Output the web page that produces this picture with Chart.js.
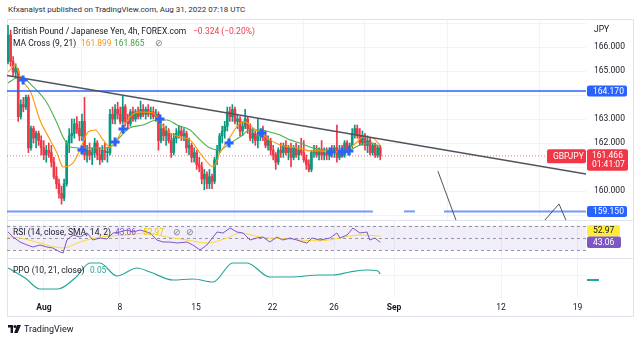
<!DOCTYPE html>
<html>
<head>
<meta charset="utf-8">
<script src="https://cdn.jsdelivr.net/npm/chart.js@4.4.0/dist/chart.umd.min.js"></script>
<style>
  body { margin: 0; width: 640px; height: 341px; background: #fff; position: relative; overflow: hidden;
         font-family: Roboto, "Noto Sans", sans-serif; color: #131722; }
  canvas { position: absolute; left: 7px; }
  #head { position: absolute; left: 8px; top: 5px; font-size: 8px; color: #2a2e39; }
  #frame { position: absolute; left: 7px; top: 19px; width: 627px; height: 298px; border: 1px solid #e0e3eb; box-sizing: border-box; }
  .sep { position: absolute; left: 7px; width: 627px; height: 1px; background: #e0e3eb; }
  .lg { position: absolute; font-size: 8.5px; line-height: 10px; white-space: nowrap; }
  .v { font-size: 8.4px; }
  .dn { color: #f23645; }
  #logo { position: absolute; left: 8px; top: 324px; font-size: 9px; color: #131722; }
  #logo svg { vertical-align: -1px; margin-right: 3px; }
</style>
</head>
<body>
<div id="head">Kfxanalyst published on TradingView.com, Aug 31, 2022 07:18 UTC</div>
<div id="frame"></div>
<canvas id="mainChart" width="626" height="200" style="top:20px"></canvas>
<canvas id="rsiChart" width="626" height="38" style="top:220px"></canvas>
<canvas id="ppoChart" width="626" height="58" style="top:258px"></canvas>
<div class="sep" style="top:220px"></div>
<div class="sep" style="top:258px"></div>

<div class="lg" style="left:13px;top:26px">British Pound / Japanese Yen, 4h, FOREX.com</div>
<div class="lg dn" style="left:193px;top:26px">−0.324 (−0.20%)</div>
<div class="lg" style="left:13px;top:38px">MA Cross (9, 21)</div>
<div class="lg v" style="left:81px;top:38px;color:#ff9800">161.899</div>
<div class="lg v" style="left:114px;top:38px;color:#43a047">161.865</div>
<div class="lg" style="left:155px;top:38px;color:#787b86">⊘</div>
<div class="lg" style="left:594px;top:24px">JPY</div>

<div class="lg" style="left:13px;top:227px">RSI (14, close, SMA, 14, 2)</div>
<div class="lg v" style="left:115px;top:227px;color:#7e57c2">43.06</div>
<div class="lg v" style="left:143px;top:227px;color:#e6c800">52.97</div>
<div class="lg" style="left:173px;top:227px;color:#787b86">⊘</div>
<div class="lg" style="left:186px;top:227px;color:#787b86">⊘</div>

<div class="lg" style="left:13px;top:265px">PPO (10, 21, close)</div>
<div class="lg v" style="left:90px;top:265px;color:#26a69a">0.05</div>

<div id="logo"><svg width="13" height="8" viewBox="0 0 13 8"><path d="M0 0h5v8H2.6V2.4H0z M9 0h4L9.6 8H6.2z" fill="#131722"/><circle cx="7" cy="1.6" r="1.5" fill="#131722"/></svg>TradingView</div>

<script>
// GBPJPY 4h candles, bar index 0 = first visible bar
const open = [165.4,166.5,165.4,164.95,165.0,163.1,163.6,163.5,163.9,161.8,162.6,162.2,162.4,162.1,161.8,161.5,161.7,161.6,161.2,160.6,
  160.3,159.9,159.7,160.3,162.0,162.3,162.4,162.8,162.6,162.3,162.9,161.5,161.7,161.5,161.6,162.0,161.5,161.3,161.7,161.6,
  161.6,163.2,163.0,163.4,163.2,162.9,163.5,162.9,162.8,163.3,163.0,163.3,163.1,163.4,163.2,163.4,163.2,163.3,163.1,163.2,
  162.1,162.6,162.3,162.5,162.1,161.6,162.2,162.4,162.5,162.3,162.4,161.8,161.9,161.4,161.6,161.1,161.0,160.5,160.7,160.3,
  160.6,160.4,161.3,161.7,162.3,162.5,162.7,163.3,163.1,163.4,162.9,163.0,162.5,162.7,163.0,162.6,162.2,162.4,162.1,162.3,
  162.5,162.3,161.9,162.1,161.7,161.5,161.2,161.7,161.6,161.9,161.6,161.8,161.4,161.8,161.5,161.7,161.6,161.3,161.1,160.9,
  161.6,161.7,161.5,161.7,161.5,161.6,161.5,161.7,161.6,161.8,161.4,161.7,161.5,162.0,161.7,161.9,162.4,162.6,162.3,162.0,
  162.3,161.9,162.1,161.6,161.9,161.5,161.8];
const high = [166.9,166.7,165.6,165.3,165.1,163.8,163.9,164.0,164.0,162.7,162.7,162.5,162.5,162.3,162.1,161.9,162.0,161.9,161.4,161.0,
  160.5,160.2,160.5,162.1,162.6,163.0,163.0,163.1,162.9,163.2,163.9,161.9,162.0,161.8,162.2,162.1,161.8,161.9,162.0,161.8,
  163.4,163.5,163.6,163.7,163.5,163.95,163.6,163.2,163.4,163.5,163.4,163.5,163.75,163.6,163.5,163.6,163.5,163.5,163.4,163.3,
  162.9,162.8,162.7,162.6,162.4,162.4,162.6,162.7,162.7,162.6,162.5,162.2,162.0,161.8,161.7,161.4,161.2,160.9,160.8,160.9,
  160.7,161.4,161.9,162.4,162.7,162.9,163.5,163.5,163.6,163.5,163.2,163.1,162.9,163.4,163.1,162.8,162.6,162.5,163.0,162.6,
  162.7,162.5,162.3,162.2,161.9,161.6,161.8,162.0,162.0,162.1,161.9,162.0,161.9,162.0,161.9,162.2,162.1,161.5,161.3,161.7,
  161.9,161.9,161.8,162.1,161.8,161.8,161.8,161.9,161.9,162.75,161.9,161.9,162.1,162.1,162.0,162.6,162.75,162.75,162.6,162.5,
  162.4,162.3,162.2,162.0,162.0,161.9,161.9];
const low = [165.3,165.2,164.8,164.7,162.9,163.0,163.3,163.4,161.6,161.7,162.0,161.8,161.9,161.5,161.3,161.2,161.4,161.0,160.5,160.1,
  159.7,159.45,159.6,160.2,161.6,162.0,162.2,162.4,162.1,162.1,161.3,161.2,161.3,161.1,161.4,161.3,161.1,161.2,161.3,161.2,
  161.5,162.8,162.8,163.0,162.8,162.8,162.7,162.6,162.7,162.9,162.9,163.0,163.0,163.1,163.0,163.1,163.0,163.0,162.9,161.7,
  162.0,162.1,161.9,162.0,161.4,161.5,162.0,162.2,162.1,162.1,161.6,161.5,161.2,161.2,160.9,160.8,160.3,160.05,160.1,160.1,
  160.1,160.3,161.1,161.6,162.0,162.2,162.5,162.9,162.9,162.8,162.6,162.3,162.3,162.6,162.4,162.1,162.0,161.9,161.8,162.1,
  162.1,161.8,161.7,161.5,161.3,160.9,161.1,161.4,161.4,161.5,161.3,161.0,161.3,161.4,161.3,161.5,161.2,160.9,160.8,160.8,
  161.4,161.4,161.3,161.3,161.3,161.3,161.3,161.4,161.4,161.2,161.3,161.4,161.4,161.6,161.5,161.8,162.2,162.2,161.9,161.9,
  161.7,161.6,161.5,161.5,161.4,161.4,161.3];
const close = [166.5,165.4,164.95,165.1,163.1,163.6,163.5,163.9,161.8,162.6,162.2,162.4,162.1,161.8,161.5,161.7,161.6,161.2,160.6,160.3,
  159.9,159.7,160.3,162.0,162.3,162.4,162.8,162.6,162.3,162.9,161.5,161.7,161.5,161.6,162.0,161.5,161.3,161.7,161.6,161.6,
  163.2,163.0,163.4,163.2,162.9,163.5,162.9,162.8,163.3,163.0,163.3,163.1,163.4,163.2,163.4,163.2,163.3,163.1,163.2,162.1,
  162.6,162.3,162.5,162.1,161.6,162.2,162.4,162.5,162.3,162.4,161.8,161.9,161.4,161.6,161.1,161.0,160.5,160.7,160.3,160.6,
  160.4,161.3,161.7,162.3,162.5,162.7,163.3,163.1,163.4,162.9,163.0,162.5,162.7,163.0,162.6,162.2,162.4,162.1,162.3,162.5,
  162.3,161.9,162.1,161.7,161.5,161.2,161.7,161.6,161.9,161.6,161.8,161.4,161.8,161.5,161.7,161.6,161.3,161.1,160.9,161.6,
  161.7,161.5,161.7,161.5,161.6,161.5,161.7,161.6,161.8,161.4,161.7,161.5,162.0,161.7,161.9,162.4,162.6,162.3,162.0,162.3,
  161.9,162.1,161.6,161.9,161.5,161.8,161.466];

// MA Cross (9, 21) lines, read at bar positions
const ma9Idx = [0,3,5,9,12.5,16.5,19.2,21.6,25.5,28.2,31.4,34.1,37.3,40,42.7,45.1,48.6,51.8,56.9,59.6,63.5,67.5,71.4,75.3,79.2,80.4,
  83.1,87.1,91,92.9,95.7,98.8,102.7,106.7,110.6,114.5,118.4,122.4,126.3,131.4,134.1,136.9,139.2,143.1,146];
const ma9Val = [164.95,165.25,164.7,164.1,162.96,162.13,161.58,161.0,161.17,161.71,162.46,162.54,162.13,161.83,162.13,162.63,163.17,
  163.29,163.25,162.88,162.42,162.25,162.13,161.58,161.08,161.0,161.58,162.25,162.83,162.88,162.67,162.42,162.13,161.92,161.83,
  161.79,161.67,161.67,161.63,161.63,161.79,162.04,162.25,162.21,161.899];
const ma21Idx = [0,3,5,10,15.3,19.2,21.6,24.3,29.4,36.1,40,43.9,47.8,52.9,58.4,62.4,66.3,71.4,75.3,79.2,83.1,87.1,91,94.9,98.8,
  102.7,106.7,110.6,114.5,119.6,125.1,130.2,134.1,138,141.9,146];
const ma21Val = [164.5,164.7,164.75,164.33,163.67,162.83,162.25,161.83,161.79,161.79,161.83,162.25,162.63,162.75,162.96,162.96,
  162.75,162.54,162.13,161.79,161.71,162.0,162.25,162.54,162.54,162.46,162.33,162.13,162.0,161.79,161.71,161.63,161.71,161.92,
  162.0,161.865];
const crossIdx = [5.9,29,42,45.1,59.6,86.7,99.6,126.7,131,133.7];
const crossVal = [164.63,161.71,162.04,162.58,163.0,162.0,162.42,161.63,161.63,161.67];

// drawings: horizontal levels, falling trend line, projected path
const levelHigh = 164.17;
const levelLow = 159.15;
const levelLowSegs = [[-0.4, 143.1], [155.3, 159.6], [171, 226.7]];
const lastPrice = 161.466;
const trendIdx = [-0.4, 226.7];
const trendVal = [164.81, 160.71];
const pathAIdx = [168.6, 176.7];
const pathAVal = [160.83, 158.5];
const pathBIdx = [208.2, 216.1, 220.0];
const pathBVal = [158.5, 159.46, 158.5];

// RSI (14) with its SMA (14)
const rsiIdx = [0,2,4.7,7.5,9.8,12.5,15.3,17.6,20.4,21.6,23.1,25.5,28.2,31,33.3,36.1,38.8,41.2,43.9,46.7,49,51.8,55.7,58.4,60.8,
  63.5,66.3,70.2,72.5,75.3,78,82,84.3,87.1,89.8,92.2,94.9,97.6,100,102.7,105.5,107.8,110.6,113.3,115.7,117.3,119.2,122.4,126.3,
  129,130.2,133,135.3,138,140.8,141.9,143.9,146];
const rsiVal = [59.6,51.6,43.6,38.8,35.6,38.8,35.6,34,27.6,26,46.8,54.8,51.6,58,46.8,50,48.4,58,59.6,62.8,59.6,62.8,58,46.8,43.6,
  43.6,42,43.6,38.8,30.8,38.8,59.6,58,66,59.6,58,46.8,50,51.6,43.6,51.6,46.8,50,46.8,43.6,42,50,46.8,50,58,50,54.8,66,58,59.6,
  46.8,50,43.06];
const rsiSmaIdx = [0,4.7,12.5,21.6,28.2,36.1,46.7,54.5,62.4,70.2,78,85.9,91,98.8,109.4,114.5,122.4,130.2,138,146];
const rsiSmaVal = [51.6,50,42,34,43.6,51.6,54.8,58,51.6,46.8,42,50,58,51.6,48.4,46.8,45.5,50,54.8,52.97];
const rsiBands = [70, 50, 30];

// PPO (10, 21)
const ppoIdx = [0,6.7,12.5,19.6,26.3,32.2,36.1,42.7,50.6,55.7,64.7,72.5,80.4,88.2,93.7,102.7,110.6,122.4,127.5,134.1,140.8,145.1,146];
const ppoVal = [0.35,-0.15,-0.7,-0.7,-0.15,0.6,0.6,-0.05,0.35,0.15,-0.25,-0.2,-0.35,0.6,0.6,-0.1,-0.1,0,0,0.15,0.25,0.2,0.05];

// time axis
const tickIdx = [14.1, 43.9, 73.7, 103.7, 127.9, 151.4, 193.4, 223.4];
const tickText = ['Aug', '8', '15', '22', '26', 'Sep', '12', '19'];
const priceTicks = [159, 160, 161, 162, 163, 164, 165, 166, 167];
const hiddenPriceTicks = [159, 161, 164, 167];

const xMin = -0.4, xMax = 226.7;
const upColor = '#089981', downColor = '#f23645', blue = '#2962ff';
const gridColor = '#f0f3fa';
const font = 'Roboto, "Noto Sans", sans-serif';

Chart.defaults.font.family = font;
Chart.defaults.font.size = 8.5;
Chart.defaults.color = '#131722';

const pts = (xs, ys) => xs.map((x, i) => ({ x: x, y: ys[i] }));

function xAxis(showLabels) {
    return {
        type: 'linear', min: xMin, max: xMax, offset: false,
        border: { display: false },
        grid: { color: gridColor, drawTicks: false },
        afterBuildTicks: s => { s.ticks = tickIdx.map(v => ({ value: v })); },
        ticks: {
            display: showLabels, autoSkip: false, maxRotation: 0, padding: 5,
            font: c => ({ family: font, size: 8.5, weight: (c.index === 0 || c.index === 5) ? 'bold' : 'normal' }),
            callback: (v, i) => tickText[i]
        },
        afterFit: s => { s.height = showLabels ? 18 : 0; s.paddingLeft = 0; s.paddingRight = 0; }
    };
}

// right-hand value axis of fixed width, no edge padding
function yAxis(min, max, extra) {
    return Object.assign({
        position: 'right', min: min, max: max,
        border: { display: false },
        grid: { display: false },
        ticks: { display: false },
        afterFit: s => { s.width = 47; s.paddingTop = 0; s.paddingBottom = 0; }
    }, extra);
}

function baseOptions() {
    return {
        responsive: false, animation: false, events: [],
        layout: { autoPadding: false, padding: 0 },
        plugins: { legend: { display: false }, tooltip: { enabled: false } }
    };
}

function tag(ctx, x, y, w, h, bg, fg, text) {
    ctx.fillStyle = bg;
    ctx.beginPath();
    ctx.roundRect(x, y - h / 2, w, h, 2);
    ctx.fill();
    ctx.fillStyle = fg;
    ctx.font = '8.5px ' + font;
    ctx.textBaseline = 'middle';
    ctx.textAlign = 'left';
    ctx.fillText(text, x + 6, y + 0.5);
}

// price pane
const candleColor = close.map((c, i) => c >= open[i] ? upColor : downColor);
const mainTags = {
    id: 'mainTags',
    afterDraw(chart) {
        const ctx = chart.ctx, ys = chart.scales.y, r = chart.chartArea.right;
        ctx.save();
        tag(ctx, r + 1, ys.getPixelForValue(levelHigh), 40, 11, blue, '#fff', levelHigh.toFixed(3));
        tag(ctx, r + 1, ys.getPixelForValue(levelLow), 40, 11, blue, '#fff', levelLow.toFixed(3));
        const yl = ys.getPixelForValue(lastPrice);
        // last price with bar countdown underneath
        ctx.fillStyle = downColor;
        ctx.beginPath();
        ctx.roundRect(r + 1, yl - 6.5, 41, 21.5, 2);
        ctx.fill();
        ctx.fillStyle = '#fff';
        ctx.font = '8.5px ' + font;
        ctx.textBaseline = 'middle';
        ctx.fillText(lastPrice.toFixed(3), r + 6, yl + 0.5);
        ctx.fillText('01:41:07', r + 6, yl + 9.5);
        tag(ctx, r - 39, yl + 0.5, 39, 14, downColor, '#fff', 'GBPJPY');
        ctx.restore();
    }
};

new Chart(document.getElementById('mainChart'), {
    type: 'line',
    data: {
        datasets: [
            { type: 'line', data: pts(crossIdx, crossVal), showLine: false, pointStyle: 'cross', pointRadius: 4.5,
              borderColor: blue, borderWidth: 3, order: 0 },
            { data: pts(trendIdx, trendVal), borderColor: '#50535e', borderWidth: 1.5, pointRadius: 0, order: 1 },
            { data: pts(pathAIdx, pathAVal), borderColor: '#50535e', borderWidth: 1, pointRadius: 0, order: 1 },
            { data: pts(pathBIdx, pathBVal), borderColor: '#50535e', borderWidth: 1, pointRadius: 0, order: 1 },
            { data: pts([xMin, xMax], [levelHigh, levelHigh]), borderColor: blue, borderWidth: 1.5, pointRadius: 0, order: 2 },
            ...levelLowSegs.map(s => ({ data: pts(s, [levelLow, levelLow]), borderColor: 'rgba(41,98,255,0.65)', borderWidth: 2,
              pointRadius: 0, order: 2 })),
            { data: pts([xMin, xMax], [lastPrice, lastPrice]), borderColor: 'rgba(242,54,69,0.7)', borderWidth: 1,
              borderDash: [1, 2], pointRadius: 0, order: 3 },
            { data: pts(ma9Idx, ma9Val), borderColor: '#ff9800', borderWidth: 1.1, pointRadius: 0,
              cubicInterpolationMode: 'monotone', order: 4 },
            { data: pts(ma21Idx, ma21Val), borderColor: '#4caf50', borderWidth: 1.1, pointRadius: 0,
              cubicInterpolationMode: 'monotone', order: 5 },
            { type: 'bar', data: close.map((c, i) => ({ x: i, y: [open[i], c] })), backgroundColor: candleColor,
              barThickness: 2, grouped: false, minBarLength: 1, order: 8 },
            { type: 'bar', data: close.map((c, i) => ({ x: i, y: [low[i], high[i]] })), backgroundColor: candleColor,
              barThickness: 1, grouped: false, order: 9 }
        ]
    },
    options: Object.assign(baseOptions(), {
        scales: {
            x: xAxis(false),
            y: yAxis(158.7917, 167.125, {
                grid: { color: gridColor, drawTicks: false },
                afterBuildTicks: s => { s.ticks = priceTicks.map(v => ({ value: v })); },
                ticks: { padding: 8, callback: v => hiddenPriceTicks.includes(v) ? '' : v.toFixed(3) }
            })
        }
    }),
    plugins: [mainTags]
});

// RSI pane
const rsiDecor = {
    id: 'rsiDecor',
    beforeDatasetsDraw(chart) {
        const ctx = chart.ctx, ys = chart.scales.y, a = chart.chartArea;
        const top = ys.getPixelForValue(rsiBands[0]), bot = ys.getPixelForValue(rsiBands[2]);
        ctx.save();
        ctx.fillStyle = 'rgba(126,87,194,0.1)';
        ctx.fillRect(a.left, top, a.right - a.left, bot - top);
        ctx.strokeStyle = '#9598a1';
        ctx.lineWidth = 1;
        ctx.setLineDash([3, 3]);
        rsiBands.forEach(b => {
            const y = Math.round(ys.getPixelForValue(b)) + 0.5;
            ctx.beginPath();
            ctx.moveTo(a.left, y);
            ctx.lineTo(a.right, y);
            ctx.stroke();
        });
        ctx.restore();
    },
    afterDraw(chart) {
        const ctx = chart.ctx, ys = chart.scales.y, r = chart.chartArea.right;
        const rsiLast = rsiVal[rsiVal.length - 1], smaLast = rsiSmaVal[rsiSmaVal.length - 1];
        const yr = ys.getPixelForValue(rsiLast);
        const ysma = Math.min(ys.getPixelForValue(smaLast), yr - 11.5);
        ctx.save();
        tag(ctx, r + 1, ysma, 33, 11.5, '#ffeb3b', '#131722', smaLast.toFixed(2));
        tag(ctx, r + 1, yr, 34, 11.5, '#7e57c2', '#fff', rsiLast.toFixed(2));
        ctx.restore();
    }
};

new Chart(document.getElementById('rsiChart'), {
    type: 'line',
    data: {
        datasets: [
            { data: pts(rsiIdx, rsiVal), borderColor: '#7e57c2', borderWidth: 1, pointRadius: 0, order: 0 },
            { data: pts(rsiSmaIdx, rsiSmaVal), borderColor: '#fdd835', borderWidth: 1, pointRadius: 0,
              cubicInterpolationMode: 'monotone', order: 1 }
        ]
    },
    options: Object.assign(baseOptions(), {
        scales: { x: xAxis(false), y: yAxis(18, 78.8, {}) }
    }),
    plugins: [rsiDecor]
});

// PPO pane with the time axis
const ppoTag = {
    id: 'ppoTag',
    afterDraw(chart) {
        const ctx = chart.ctx, ys = chart.scales.y, r = chart.chartArea.right;
        const y = ys.getPixelForValue(ppoVal[ppoVal.length - 1]);
        ctx.save();
        ctx.fillStyle = '#26a69a';
        ctx.fillRect(r + 1, y + 5, 12, 2);
        ctx.restore();
    }
};

new Chart(document.getElementById('ppoChart'), {
    type: 'line',
    data: {
        datasets: [
            { data: pts(ppoIdx, ppoVal), borderColor: '#26a69a', borderWidth: 1.2, pointRadius: 0,
              cubicInterpolationMode: 'monotone' }
        ]
    },
    options: Object.assign(baseOptions(), {
        scales: {
            x: xAxis(true),
            y: yAxis(-1.15, 0.85, {
                grid: { color: gridColor, drawTicks: false },
                afterBuildTicks: s => { s.ticks = [{ value: 0 }]; }
            })
        }
    }),
    plugins: [ppoTag]
});
</script>
</body>
</html>
